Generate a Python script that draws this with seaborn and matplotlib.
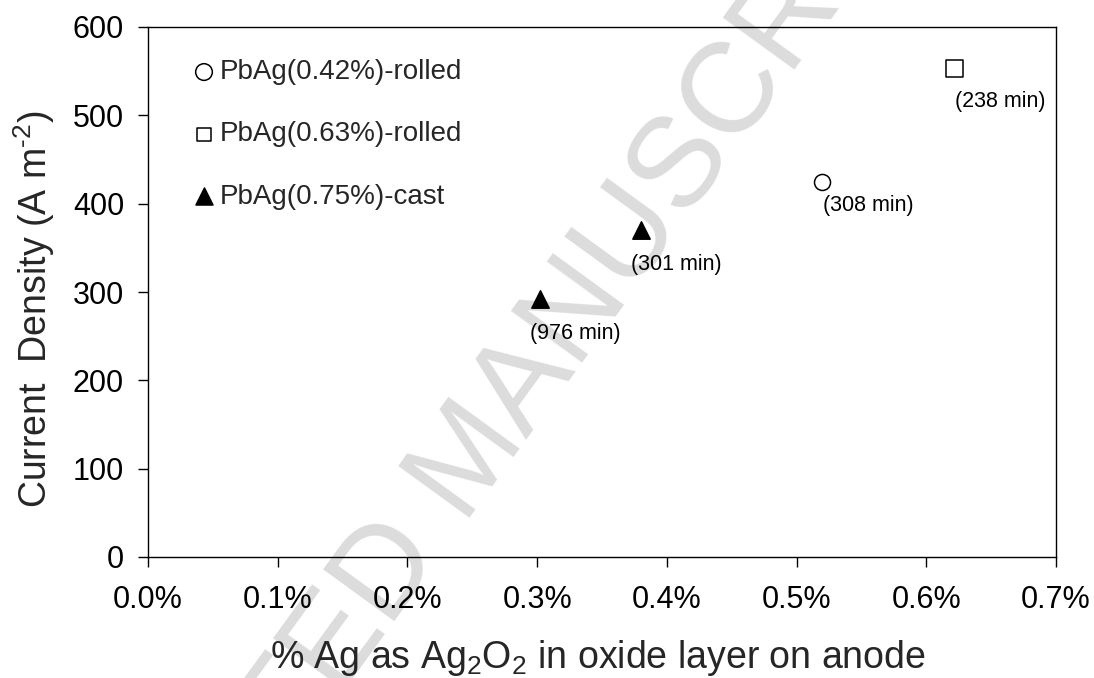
import matplotlib
matplotlib.use("Agg")
import matplotlib.pyplot as plt
import matplotlib.ticker as mticker
import seaborn as sns
import pandas as pd

# Silver in Ag2O2 (% of oxide layer) vs. current density, per anode type
series_names = ["PbAg(0.42%)-rolled", "PbAg(0.63%)-rolled", "PbAg(0.75%)-cast"]
ag_042_x = [0.520]
ag_042_y = [424]
ag_063_x = [0.622]
ag_063_y = [553]
ag_075_x = [0.302, 0.380]
ag_075_y = [292, 370]
point_times = {"PbAg(0.42%)-rolled": ["(308 min)"],
               "PbAg(0.63%)-rolled": ["(238 min)"],
               "PbAg(0.75%)-cast": ["(976 min)", "(301 min)"]}
x_ticks = [0.0, 0.1, 0.2, 0.3, 0.4, 0.5, 0.6, 0.7]
y_ticks = [0, 100, 200, 300, 400, 500, 600]

sns.set_theme(style="white")
plt.rcParams["font.family"] = ["Liberation Sans", "DejaVu Sans"]
plt.rcParams["mathtext.fontset"] = "custom"
plt.rcParams["mathtext.rm"] = "Liberation Sans"
plt.rcParams["mathtext.it"] = "Liberation Sans"

df = pd.DataFrame({
    "x": ag_042_x + ag_063_x + ag_075_x,
    "y": ag_042_y + ag_063_y + ag_075_y,
    "series": [series_names[0]] * len(ag_042_x)
              + [series_names[1]] * len(ag_063_x)
              + [series_names[2]] * len(ag_075_x),
})

fig = plt.figure(figsize=(10.94, 6.78), dpi=100)
ax = fig.add_axes([148 / 1094, 1 - 557 / 678, (1056 - 148) / 1094, (557 - 27) / 678])
ax.set_zorder(2)
ax.set_facecolor("none")

# faint diagonal watermark behind the plot
fig.text(0.43, 0.32, "ACCEPTED MANUSCRIPT", rotation=54, fontsize=92,
         color="#dcdcdc", ha="center", va="center", zorder=0)

styles = {
    series_names[0]: dict(marker="o", facecolor="none", s=133, offset=(0, -9)),
    series_names[1]: dict(marker="s", facecolor="none", s=144, offset=(0, -16)),
    series_names[2]: dict(marker="^", facecolor="black", s=156, offset=(-7, -17)),
}
for name in series_names:
    sub = df[df["series"] == name]
    st = styles[name]
    sns.scatterplot(data=sub, x="x", y="y", ax=ax, marker=st["marker"], s=st["s"],
                    facecolor=st["facecolor"], edgecolor="black", linewidth=1.1,
                    label=name, zorder=3)
    for (xv, yv), lab in zip(sub[["x", "y"]].values, point_times[name]):
        ax.annotate(lab, (xv, yv), xytext=st["offset"],
                    textcoords="offset points", ha="left", va="top", fontsize=15.5,
                    color="black")

ax.set_xlim(0, 0.7)
ax.set_ylim(0, 600)
ax.set_xticks(x_ticks)
ax.set_yticks(y_ticks)
ax.xaxis.set_major_formatter(mticker.FuncFormatter(lambda v, p: f"{v:.1f}%"))
ax.tick_params(axis="both", direction="out", length=7.2, width=1, labelsize=22,
               colors="black")
ax.tick_params(axis="x", pad=13)
ax.tick_params(axis="y", pad=10)
for side in ["left", "bottom", "right", "top"]:
    ax.spines[side].set_visible(True)
    ax.spines[side].set_color("black")
    ax.spines[side].set_linewidth(1.0)
ax.xaxis.set_ticks_position("bottom")
ax.yaxis.set_ticks_position("left")

ax.set_xlabel("% Ag as Ag$_2$O$_2$ in oxide layer on anode", fontsize=27)
ax.set_ylabel(r"Current  Density (A m$^{\text{-}2}$)", fontsize=27)
ax.xaxis.set_label_coords(0.496, -0.152)
ax.yaxis.set_label_coords(-0.100, 0.468)

leg = ax.legend(loc="upper left", bbox_to_anchor=(0.0525, 0.939), frameon=False,
                fontsize=20, labelspacing=1.3, handletextpad=0.28,
                handlelength=0.6, borderpad=0, borderaxespad=0)
for h, sz in zip(leg.legend_handles, [144, 90, 150]):
    h.set_sizes([sz])

fig.savefig("out.png", dpi=100)
